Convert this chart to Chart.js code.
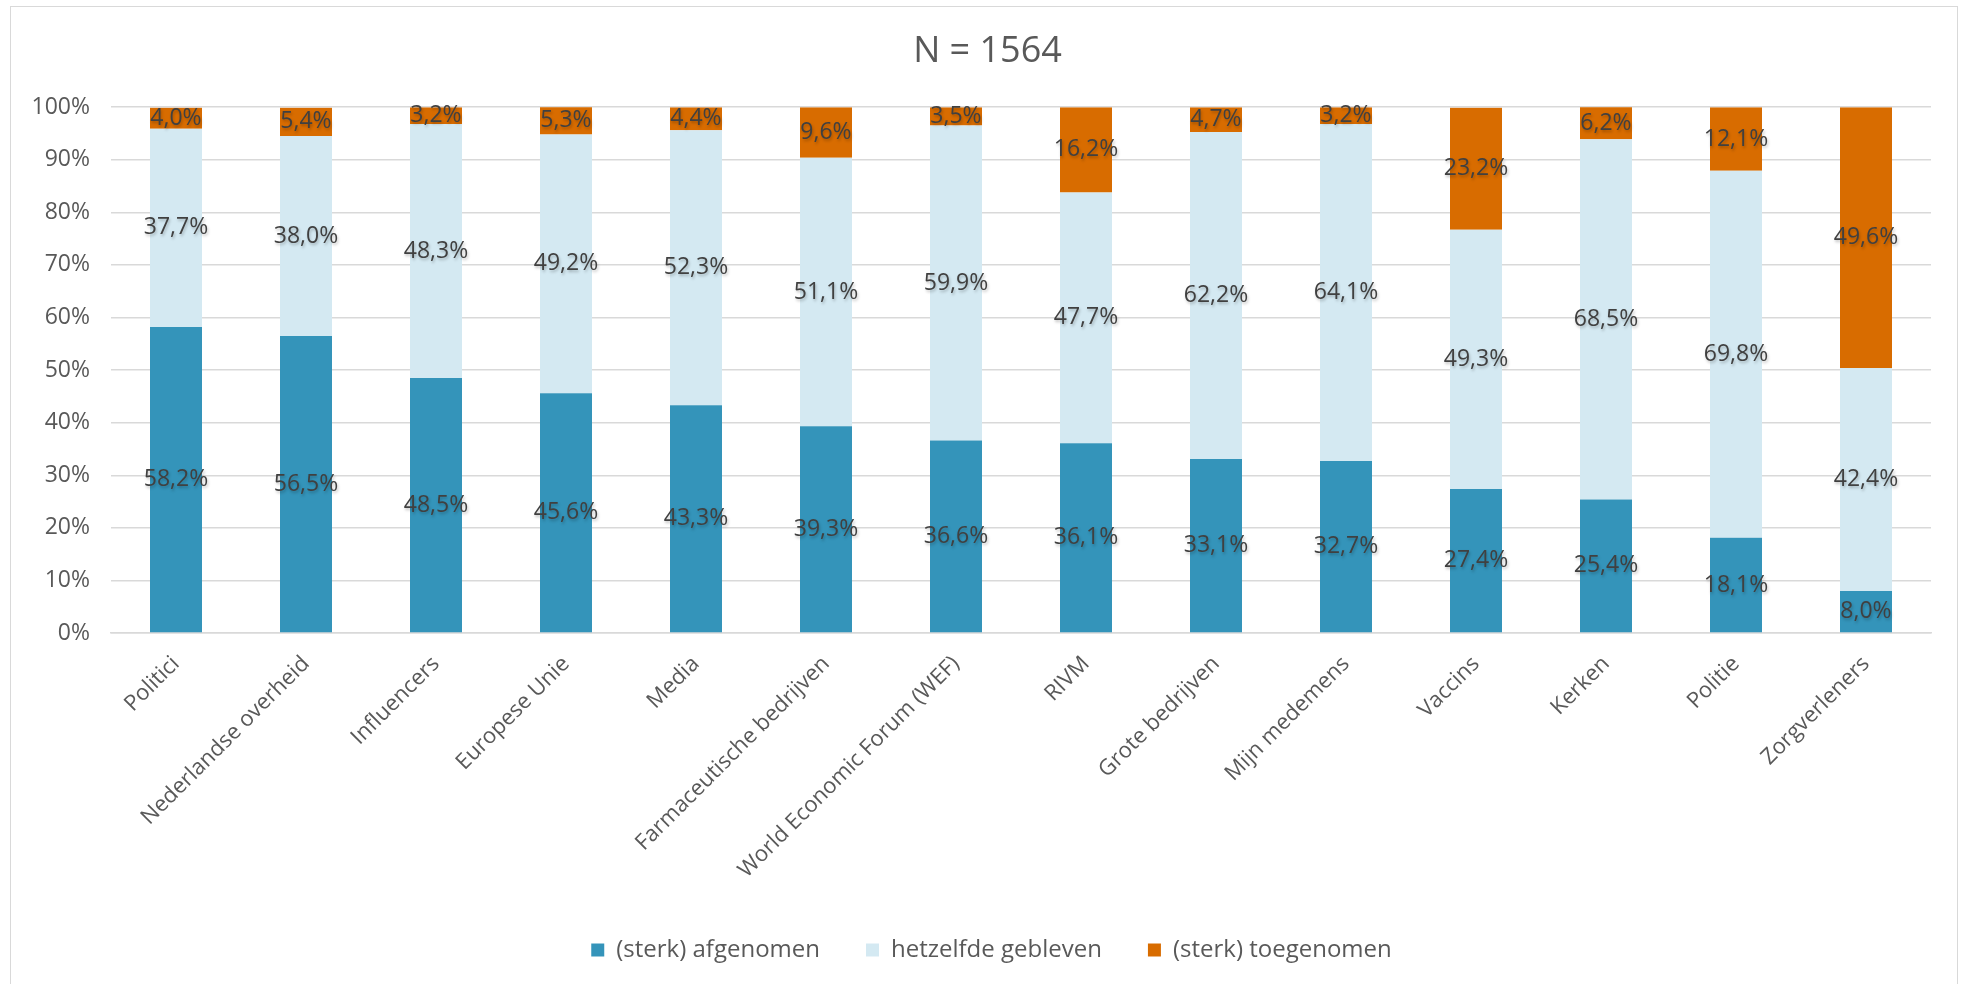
<!DOCTYPE html>
<html>
<head>
<meta charset="utf-8">
<script src="https://cdn.jsdelivr.net/npm/chart.js@4/dist/chart.umd.min.js"></script>
<style>
    html, body { margin: 0; padding: 0; background: #fff; }
    #wrap { position: relative; width: 1966px; height: 984px; overflow: hidden; }
    #frame { position: absolute; left: 10px; top: 6px; width: 1946px; height: 1000px; border: 1px solid #d9d9d9; pointer-events: none; }
</style>
</head>
<body>
<div id="wrap">
    <canvas id="trustChart" width="1966" height="984"></canvas>
    <div id="frame"></div>
</div>
<script>
const categories = [
    'Politici', 'Nederlandse overheid', 'Influencers', 'Europese Unie', 'Media',
    'Farmaceutische bedrijven', 'World Economic Forum (WEF)', 'RIVM', 'Grote bedrijven',
    'Mijn medemens', 'Vaccins', 'Kerken', 'Politie', 'Zorgverleners'
];
const afgenomen = [58.2, 56.5, 48.5, 45.6, 43.3, 39.3, 36.6, 36.1, 33.1, 32.7, 27.4, 25.4, 18.1, 8.0];
const hetzelfde = [37.7, 38.0, 48.3, 49.2, 52.3, 51.1, 59.9, 47.7, 62.2, 64.1, 49.3, 68.5, 69.8, 42.4];
const toegenomen = [4.0, 5.4, 3.2, 5.3, 4.4, 9.6, 3.5, 16.2, 4.7, 3.2, 23.2, 6.2, 12.1, 49.6];
const seriesNames = ['(sterk) afgenomen', 'hetzelfde gebleven', '(sterk) toegenomen'];
const chartTitle = 'N = 1564';

const fontFamily = "'Open Sans', 'DejaVu Sans', sans-serif";
const textColor = '#595959';

function formatPercent(value) {
    return value.toFixed(1).replace('.', ',') + '%';
}

// draws the value in the middle of every segment, like Excel's "center" labels
const segmentLabels = {
    id: 'segmentLabels',
    afterDatasetsDraw(chart) {
        const ctx = chart.ctx;
        ctx.save();
        ctx.font = '23px ' + fontFamily;
        ctx.fillStyle = '#404040';
        ctx.textAlign = 'center';
        ctx.textBaseline = 'middle';
        ctx.shadowColor = 'rgba(0, 0, 0, 0.25)';
        ctx.shadowBlur = 3;
        ctx.shadowOffsetX = 1;
        ctx.shadowOffsetY = 2;
        chart.data.datasets.forEach((dataset, i) => {
            const meta = chart.getDatasetMeta(i);
            meta.data.forEach((bar, j) => {
                const { x, y, base } = bar.getProps(['x', 'y', 'base'], true);
                ctx.fillText(formatPercent(dataset.data[j]), x, (y + base) / 2);
            });
        });
        ctx.restore();
    }
};

// fixed legend block height, title and legend nudged to the reference centre
const blockPlacement = {
    id: 'blockPlacement',
    beforeInit(chart) {
        const legend = chart.legend;
        const originalFit = legend.fit;
        legend.fit = function () {
            originalFit.call(this);
            this.height = 92;
        };
    },
    afterLayout(chart) {
        chart.legend.left += 21;
        chart.legend.right += 21;
        chart.titleBlock.left += 17;
        chart.titleBlock.right += 17;
    }
};

const canvas = document.getElementById('trustChart');

const config = {
    type: 'bar',
    data: {
        labels: categories,
        datasets: [
            { label: seriesNames[0], data: afgenomen, backgroundColor: '#3494BA' },
            { label: seriesNames[1], data: hetzelfde, backgroundColor: '#D4E9F2' },
            { label: seriesNames[2], data: toegenomen, backgroundColor: '#D86C00' },
        ],
    },
    options: {
        responsive: false,
        animation: false,
        maintainAspectRatio: false,
        layout: {
            padding: { left: 10, right: 35, top: 0, bottom: 0 }
        },
        datasets: {
            bar: { barPercentage: 0.4, categoryPercentage: 1 }
        },
        scales: {
            x: {
                stacked: true,
                grid: { display: false, drawTicks: false },
                border: { display: true, color: '#d9d9d9', width: 1.5 },
                ticks: {
                    color: textColor,
                    font: { family: fontFamily, size: 22 },
                    minRotation: 45,
                    maxRotation: 45,
                    autoSkip: false,
                    padding: 18
                },
                afterFit(scale) {
                    scale.height = 259;
                }
            },
            y: {
                stacked: true,
                min: 0,
                max: 100,
                grid: { color: '#d9d9d9', lineWidth: 1.5, drawTicks: false },
                border: { display: false },
                ticks: {
                    stepSize: 10,
                    color: textColor,
                    font: { family: fontFamily, size: 23 },
                    padding: 21,
                    callback: value => value + '%'
                },
                afterFit(scale) {
                    scale.width = 101;
                }
            }
        },
        plugins: {
            title: {
                display: true,
                text: chartTitle,
                color: textColor,
                font: { family: fontFamily, size: 36, weight: 'normal' },
                padding: { top: 30, bottom: 34 }
            },
            legend: {
                position: 'bottom',
                labels: {
                    color: textColor,
                    font: { family: fontFamily, size: 24 },
                    boxWidth: 13,
                    boxHeight: 13,
                    padding: 46
                }
            },
            tooltip: { enabled: false }
        }
    },
    plugins: [segmentLabels, blockPlacement]
};

new Chart(canvas, config);
</script>
</body>
</html>
